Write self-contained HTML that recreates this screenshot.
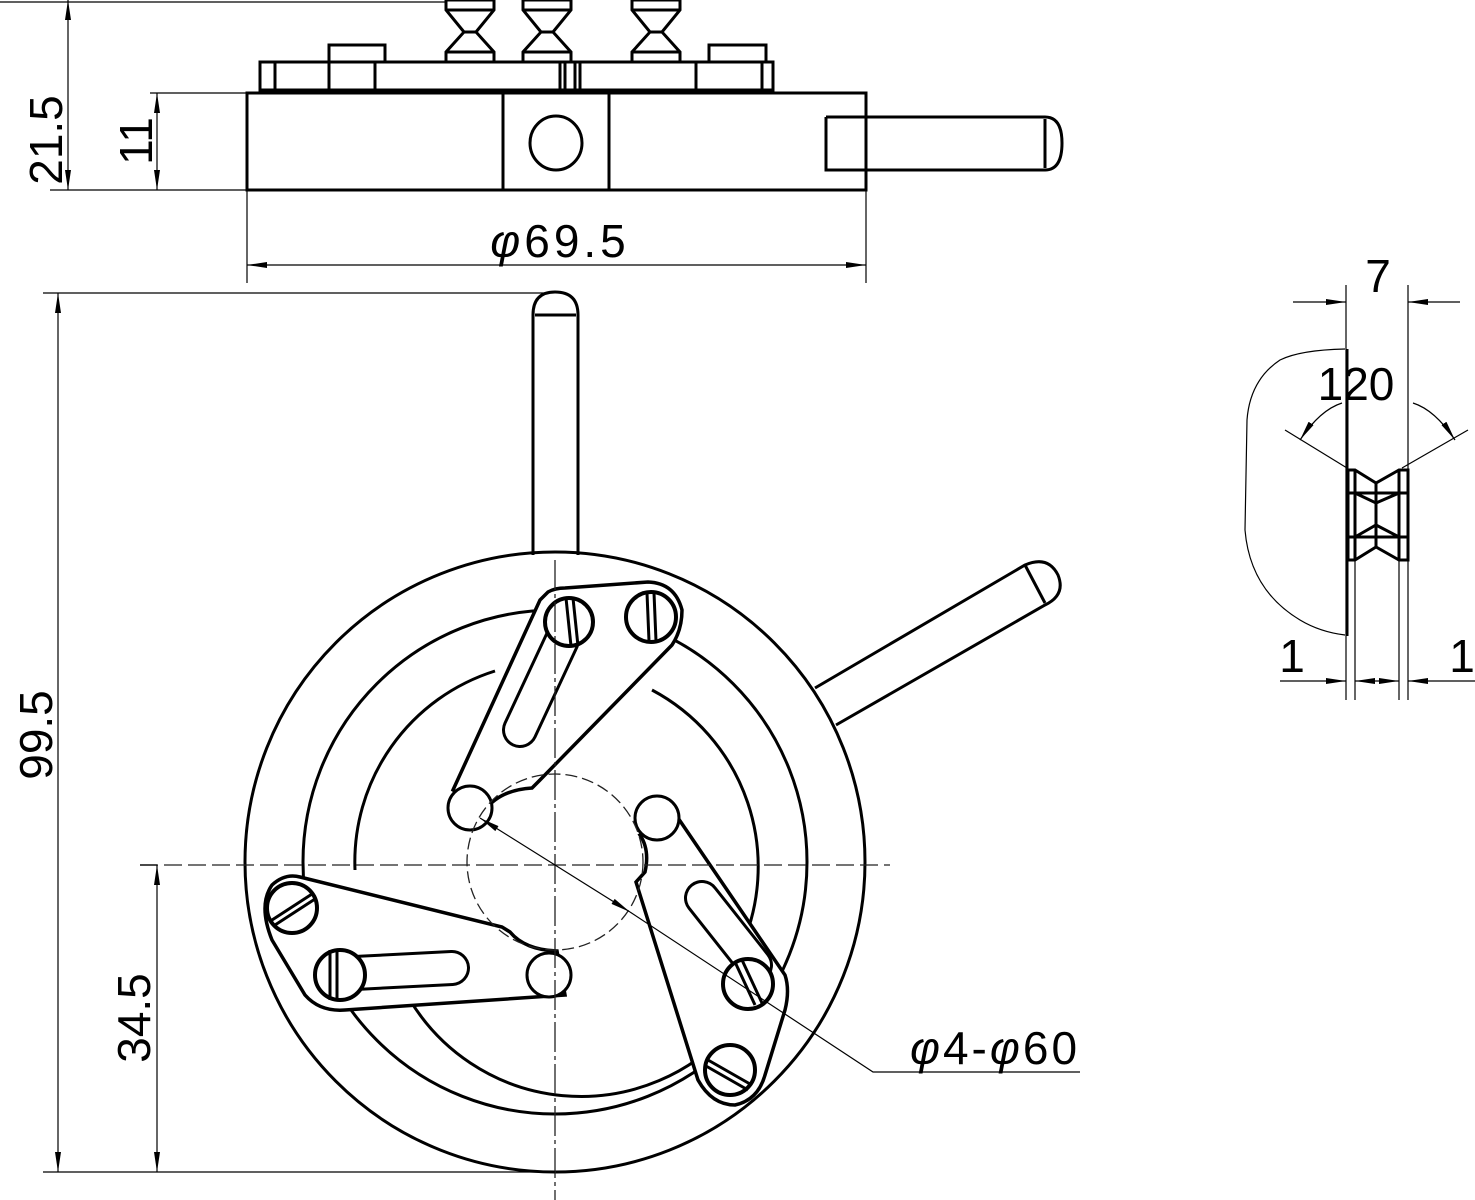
<!DOCTYPE html>
<html><head><meta charset="utf-8"><style>html,body{margin:0;padding:0;background:#fff}svg{display:block}</style></head>
<body>
<svg width="1475" height="1200" viewBox="0 0 1475 1200" xmlns="http://www.w3.org/2000/svg" font-family="Liberation Sans, sans-serif">
<defs>
<marker id="ar" viewBox="0 0 20 8" refX="20" refY="4" markerWidth="20" markerHeight="8" markerUnits="userSpaceOnUse" orient="auto-start-reverse"><path d="M0,1 L20,4 L0,7 Z" fill="#000"/></marker>
</defs>
<g fill="none" stroke="#000">
<!-- TOP VIEW -->
<g stroke-width="3">
<rect x="247" y="93" width="619" height="97"/>
<line x1="503" y1="93" x2="503" y2="190"/>
<line x1="609" y1="93" x2="609" y2="190"/>
<ellipse cx="556" cy="143" rx="26" ry="27"/>
<rect x="260" y="62" width="513" height="29"/>
<line x1="260" y1="91" x2="773" y2="91" stroke-width="5"/>
<line x1="275" y1="62" x2="275" y2="91"/><line x1="762" y1="62" x2="762" y2="91"/>
<line x1="329" y1="62" x2="329" y2="91"/><line x1="375" y1="62" x2="375" y2="91"/>
<line x1="560" y1="62" x2="560" y2="91"/><line x1="565" y1="62" x2="565" y2="91"/>
<line x1="575" y1="62" x2="575" y2="91"/><line x1="580" y1="62" x2="580" y2="91"/>
<line x1="696" y1="62" x2="696" y2="91"/>
<path d="M329,62 V45 H385 V62"/><path d="M709,62 V45 H766 V62"/>
<path d="M826,117 H866 M826,117 V170 H866"/>
<path d="M866,117 H1045 Q1062,117 1062,143 Q1062,170 1045,170 H866"/>
<line x1="1045" y1="119" x2="1045" y2="168"/>
<!-- knobs -->
<path d="M446,0 H494 V10 L476,32 L494,52 V62 H446 V52 L464,32 L446,10 Z"/><line x1="446" y1="10" x2="494" y2="10"/><line x1="446" y1="52" x2="494" y2="52"/><line x1="464" y1="32" x2="476" y2="32"/>
<path d="M523,0 H571 V10 L553,32 L571,52 V62 H523 V52 L541,32 L523,10 Z"/><line x1="523" y1="10" x2="571" y2="10"/><line x1="523" y1="52" x2="571" y2="52"/><line x1="541" y1="32" x2="553" y2="32"/>
<path d="M632,0 H680 V10 L662,32 L680,52 V62 H632 V52 L650,32 L632,10 Z"/><line x1="632" y1="10" x2="680" y2="10"/><line x1="632" y1="52" x2="680" y2="52"/><line x1="650" y1="32" x2="662" y2="32"/>
</g>
<!-- top dims -->
<g stroke-width="1.2">
<line x1="68" y1="0" x2="68" y2="190" marker-start="url(#ar)" marker-end="url(#ar)"/>
<line x1="0" y1="2" x2="446" y2="2"/>
<line x1="50" y1="190" x2="247" y2="190"/>
<line x1="150" y1="93" x2="247" y2="93"/>
<line x1="157" y1="93" x2="157" y2="190" marker-start="url(#ar)" marker-end="url(#ar)"/>
<line x1="247" y1="190" x2="247" y2="283"/>
<line x1="866" y1="190" x2="866" y2="283"/>
<line x1="247" y1="265" x2="866" y2="265" marker-start="url(#ar)" marker-end="url(#ar)"/>
</g>
<!-- MAIN VIEW -->
<g stroke-width="3">
<circle cx="555" cy="862" r="310"/>
<circle cx="555" cy="862" r="252"/>
<path d="M355,870 A200,200 0 0 1 495,671"/>
<path d="M652,690 A200,200 0 0 1 740,950"/>
<path d="M730,1030 A200,200 0 0 1 410,1000"/>
<path d="M533,555 V315 Q533,292 555,292 Q578,292 578,315 V555"/>
<line x1="535" y1="315" x2="576" y2="315"/>
<path d="M815,688 L1025,565 Q1048,555 1058,575 Q1066,595 1045,605 L836,725"/>
<line x1="1025" y1="565" x2="1045" y2="603"/>
<!-- arm top -->
<path d="M548,592 Q555,588 565,588 L648,582 Q675,583 682,610 Q682,630 672,645 L540,780 L532,788 Q500,790 485,810 L453,790 L540,600 Z" fill="#fff" stroke-width="3.5"/>
<line x1="520" y1="730" x2="562" y2="640" stroke-width="36" stroke-linecap="round"/>
<line x1="520" y1="730" x2="562" y2="640" stroke-width="30" stroke="#fff" stroke-linecap="round"/>
<circle cx="569" cy="622" r="24" stroke-width="4" fill="#fff"/>
<line x1="566" y1="598" x2="571" y2="646"/><line x1="573" y1="598" x2="578" y2="646"/>
<circle cx="651" cy="617" r="25" stroke-width="4"/>
<line x1="647" y1="593" x2="649" y2="641"/><line x1="654" y1="593" x2="656" y2="641"/>
<!-- arm left -->
<path d="M300,877 L502,927 L510,932 Q525,950 557,951 L565,995 L345,1010 Q320,1012 305,995 L272,940 Q258,905 272,885 Q285,873 300,877 Z" fill="#fff" stroke-width="3.5"/>
<line x1="355" y1="973" x2="452" y2="968" stroke-width="36" stroke-linecap="round"/>
<line x1="355" y1="973" x2="452" y2="968" stroke-width="30" stroke="#fff" stroke-linecap="round"/>
<circle cx="292" cy="908" r="25" stroke-width="4"/>
<line x1="272" y1="920" x2="312" y2="894"/><line x1="275" y1="925" x2="315" y2="899"/>
<circle cx="340" cy="975" r="25" stroke-width="4" fill="#fff"/>
<line x1="330" y1="950" x2="330" y2="1000"/><line x1="337" y1="950" x2="337" y2="1000"/>
<!-- arm right -->
<path d="M676,815 L785,975 Q790,990 785,1010 L765,1075 Q758,1100 735,1105 Q712,1105 698,1080 L636,882 L645,872 Q650,850 640,835 Z" fill="#fff" stroke-width="3.5"/>
<line x1="702" y1="898" x2="755" y2="965" stroke-width="36" stroke-linecap="round"/>
<line x1="702" y1="898" x2="755" y2="965" stroke-width="30" stroke="#fff" stroke-linecap="round"/>
<circle cx="748" cy="984" r="25" stroke-width="4" fill="#fff"/>
<line x1="735" y1="962" x2="755" y2="1005"/><line x1="742" y1="960" x2="762" y2="1003"/>
<circle cx="730" cy="1070" r="25" stroke-width="4"/>
<line x1="708" y1="1060" x2="750" y2="1084"/><line x1="706" y1="1066" x2="748" y2="1090"/>
<circle cx="470" cy="808" r="22" fill="#fff"/>
<circle cx="657" cy="818" r="22" fill="#fff"/>
<circle cx="549" cy="975" r="22" fill="#fff"/>
</g>
<g stroke-width="1.3" stroke="#222">
<line x1="140" y1="865" x2="890" y2="865" stroke-dasharray="18,6"/>
<line x1="555" y1="560" x2="555" y2="1200" stroke-dasharray="30,4,4,4"/>
<circle cx="555" cy="862" r="88" stroke-dasharray="12,5"/>
</g>
<g stroke-width="1.2">
<line x1="43" y1="293" x2="545" y2="293"/>
<line x1="43" y1="1172" x2="555" y2="1172"/>
<line x1="58" y1="293" x2="58" y2="1172" marker-start="url(#ar)" marker-end="url(#ar)"/>
<line x1="140" y1="865" x2="157" y2="865"/>
<line x1="157" y1="865" x2="157" y2="1172" marker-start="url(#ar)" marker-end="url(#ar)"/>
<line x1="480" y1="818" x2="630" y2="912" marker-start="url(#ar)" marker-end="url(#ar)"/>
<polyline points="630,912 873,1072 1080,1072"/>
</g>
<!-- RIGHT DETAIL -->
<g stroke-width="1.2">
<line x1="1346" y1="285" x2="1346" y2="700"/>
<line x1="1355" y1="470" x2="1355" y2="700"/>
<line x1="1399" y1="470" x2="1399" y2="700"/>
<line x1="1408" y1="285" x2="1408" y2="700"/>
<line x1="1293" y1="302" x2="1346" y2="302" marker-end="url(#ar)"/>
<line x1="1460" y1="302" x2="1408" y2="302" marker-end="url(#ar)"/>
<line x1="1280" y1="681" x2="1346" y2="681" marker-end="url(#ar)"/>
<line x1="1475" y1="681" x2="1408" y2="681" marker-end="url(#ar)"/>
<line x1="1355" y1="681" x2="1399" y2="681" marker-start="url(#ar)" marker-end="url(#ar)"/>
<path d="M1345,349 Q1300,350 1280,360 Q1250,380 1247,420 L1245,530 Q1250,590 1300,620 Q1320,632 1345,635"/>
<line x1="1285" y1="430" x2="1347" y2="468"/>
<line x1="1468" y1="430" x2="1402" y2="468"/>
<path d="M1300,440 Q1320,410 1342,403" marker-start="url(#ar)"/>
<path d="M1455,440 Q1435,410 1413,403" marker-start="url(#ar)"/>
</g>
<g stroke-width="3">
<line x1="1347" y1="349" x2="1347" y2="636"/>
<path d="M1348,470 H1355 L1376,483 L1399,470 H1408 V560 H1399 L1376,547 L1355,560 H1348 Z"/>
<line x1="1355" y1="470" x2="1355" y2="560"/><line x1="1399" y1="470" x2="1399" y2="560"/>
<line x1="1348" y1="493" x2="1408" y2="493"/><line x1="1348" y1="537" x2="1408" y2="537"/>
<line x1="1376" y1="483" x2="1376" y2="547"/>
<path d="M1355,493 L1376,503 L1399,493 M1355,537 L1376,525 L1399,537"/>
</g>
</g>
<g fill="#000" font-size="46">
<text transform="translate(62,140) rotate(-90)" text-anchor="middle">21.5</text>
<text transform="translate(152,141) rotate(-90)" text-anchor="middle">11</text>
<text x="560" y="257" text-anchor="middle" letter-spacing="4"><tspan font-style="italic">φ</tspan>69.5</text>
<text transform="translate(52,735) rotate(-90)" text-anchor="middle">99.5</text>
<text transform="translate(150,1018) rotate(-90)" text-anchor="middle">34.5</text>
<text x="995" y="1064" text-anchor="middle" letter-spacing="3"><tspan font-style="italic">φ</tspan>4-<tspan font-style="italic">φ</tspan>60</text>
<text x="1378" y="292" text-anchor="middle">7</text>
<text x="1356" y="400" text-anchor="middle">120</text>
<text x="1292" y="672" text-anchor="middle">1</text>
<text x="1462" y="672" text-anchor="middle">1</text>
</g>
</svg>
</body></html>
